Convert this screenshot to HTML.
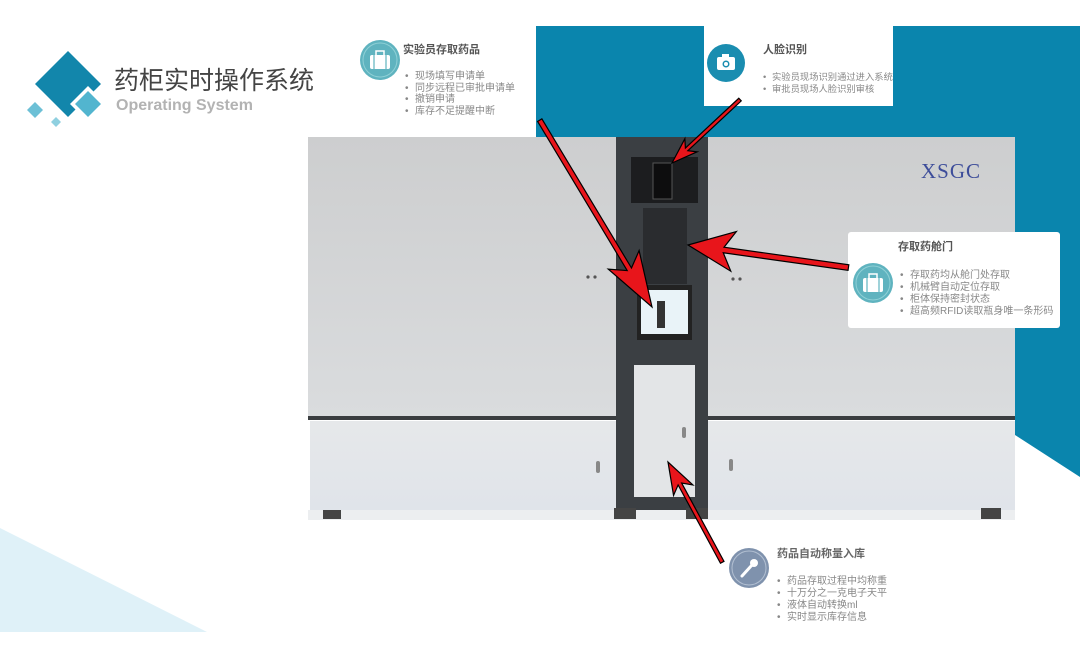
<!DOCTYPE html>
<html><head><meta charset="utf-8"><style>
html,body{margin:0;padding:0;background:#fff}
body{width:1080px;height:660px;overflow:hidden;position:relative;font-family:"Liberation Sans","Noto Sans CJK SC",sans-serif}
</style></head><body>
<svg width="1080" height="660" viewBox="0 0 1080 660" xmlns="http://www.w3.org/2000/svg" style="position:absolute;left:0;top:0">
<defs>
<linearGradient id="pan" x1="0" y1="0" x2="0" y2="1"><stop offset="0" stop-color="#cdcecf"/><stop offset="1" stop-color="#dadcde"/></linearGradient>
<linearGradient id="pan2" x1="0" y1="0" x2="0" y2="1"><stop offset="0" stop-color="#e6e8ea"/><stop offset="1" stop-color="#e0e4ea"/></linearGradient>
</defs>
<polygon points="536,26 1080,26 1080,477 1015,435 1015,137 536,137" fill="#0a85ad"/>
<polygon points="0,528 207,632 0,632" fill="#dff1f8"/>
<polygon points="68,51 101,84 68,117 35,84" fill="#1286ab"/>
<polygon points="88,86 106,104 88,122 70,104" fill="#fff"/>
<polygon points="88,91 101,104 88,117 75,104" fill="#52b5cf"/>
<polygon points="35,102 43,110 35,118 27,110" fill="#6cc0d6"/>
<polygon points="56,117 61,122 56,127 51,122" fill="#8fd0e0"/>
<text x="114" y="89" font-size="25" fill="#444">药柜实时操作系统</text>
<text x="116" y="110" font-size="16" font-weight="bold" fill="#b3b3b3">Operating System</text>
<rect x="308" y="137" width="308" height="283" fill="url(#pan)"/>
<rect x="708" y="137" width="307" height="283" fill="url(#pan)"/>
<rect x="308" y="416" width="308" height="4" fill="#3a3d40"/>
<rect x="708" y="416" width="307" height="4" fill="#3a3d40"/>
<rect x="310" y="421" width="306" height="89" fill="url(#pan2)"/>
<rect x="708" y="421" width="307" height="89" fill="url(#pan2)"/>
<rect x="308" y="510" width="707" height="10" fill="#eceef0"/>
<rect x="616" y="137" width="92" height="373" fill="#3b3f43"/>
<rect x="631" y="157" width="67" height="46" fill="#1c1d1f"/>
<rect x="653" y="163" width="19" height="36" fill="#0d0d0e" stroke="#555" stroke-width="1"/>
<rect x="643" y="208" width="44" height="76" fill="#2a2c2f"/>
<rect x="637" y="285" width="55" height="55" fill="#222"/>
<rect x="641" y="290" width="47" height="44" fill="#e9f3f8"/>
<rect x="657" y="301" width="8" height="27" fill="#333"/>
<rect x="634" y="365" width="61" height="132" fill="#e3e5e7"/>
<rect x="682" y="427" width="4" height="11" rx="2" fill="#888"/>
<rect x="596" y="461" width="4" height="12" rx="2" fill="#888"/>
<rect x="729" y="459" width="4" height="12" rx="2" fill="#888"/>
<circle cx="588" cy="277" r="1.6" fill="#555"/><circle cx="595" cy="277" r="1.6" fill="#555"/>
<circle cx="733" cy="279" r="1.6" fill="#555"/><circle cx="740" cy="279" r="1.6" fill="#555"/>
<rect x="323" y="510" width="18" height="9" fill="#444"/>
<rect x="614" y="508" width="22" height="11" fill="#444"/>
<rect x="686" y="508" width="22" height="11" fill="#444"/>
<rect x="981" y="508" width="20" height="11" fill="#444"/>
<text x="921" y="178" font-size="21" fill="#3d4d9a" font-family="Liberation Serif,serif" letter-spacing="1">XSGC</text>
<circle cx="380" cy="60" r="20" fill="#5fb3bf"/><circle cx="380" cy="60" r="17" fill="none" stroke="#8fd0d6" stroke-width="1"/>
<rect x="370" y="55" width="20" height="14" rx="2" fill="#fff"/><rect x="376" y="51" width="8" height="5" fill="none" stroke="#fff" stroke-width="1.5"/>
<line x1="374" y1="55" x2="374" y2="69" stroke="#5fb3bf" stroke-width="1.2"/><line x1="386" y1="55" x2="386" y2="69" stroke="#5fb3bf" stroke-width="1.2"/>
<text x="403" y="53" font-size="11" font-weight="bold" fill="#555">实验员存取药品</text>
<g font-size="10" fill="#888"><text x="405" y="79">•</text><text x="415" y="79">现场填写申请单</text><text x="405" y="91">•</text><text x="415" y="91">同步远程已审批申请单</text><text x="405" y="102">•</text><text x="415" y="102">撤销申请</text><text x="405" y="114">•</text><text x="415" y="114">库存不足提醒中断</text></g>
<rect x="704" y="26" width="189" height="80" fill="#fff"/>
<circle cx="726" cy="63" r="19" fill="#1a8db0"/>
<rect x="717" y="57" width="18" height="13" rx="2" fill="#fff"/><rect x="722" y="54" width="7" height="4" fill="#fff"/><circle cx="726" cy="64" r="3.5" fill="#1a8db0"/><circle cx="726" cy="64" r="2" fill="#fff"/>
<text x="763" y="53" font-size="11" font-weight="bold" fill="#555">人脸识别</text>
<g font-size="9.3" fill="#888"><text x="763" y="80">•</text><text x="772" y="80">实验员现场识别通过进入系统</text><text x="763" y="92">•</text><text x="772" y="92">审批员现场人脸识别审核</text></g>
<rect x="848" y="232" width="212" height="96" rx="3" fill="#fff"/>
<circle cx="873" cy="283" r="20" fill="#5fb3bf"/><circle cx="873" cy="283" r="17" fill="none" stroke="#8fd0d6" stroke-width="1"/>
<rect x="863" y="278" width="20" height="14" rx="2" fill="#fff"/><rect x="869" y="274" width="8" height="5" fill="none" stroke="#fff" stroke-width="1.5"/>
<line x1="867" y1="278" x2="867" y2="292" stroke="#5fb3bf" stroke-width="1.2"/><line x1="879" y1="278" x2="879" y2="292" stroke="#5fb3bf" stroke-width="1.2"/>
<text x="898" y="250" font-size="11" font-weight="bold" fill="#555">存取药舱门</text>
<g font-size="10" fill="#888"><text x="900" y="278">•</text><text x="910" y="278">存取药均从舱门处存取</text><text x="900" y="290">•</text><text x="910" y="290">机械臂自动定位存取</text><text x="900" y="302">•</text><text x="910" y="302">柜体保持密封状态</text><text x="900" y="314">•</text><text x="910" y="314">超高频RFID读取瓶身唯一条形码</text></g>
<circle cx="749" cy="568" r="20" fill="#7f92ad"/><circle cx="749" cy="568" r="17" fill="none" stroke="#b3c0d2" stroke-width="1"/>
<line x1="742" y1="576" x2="752" y2="565" stroke="#fff" stroke-width="3" stroke-linecap="round"/><circle cx="754" cy="563" r="4" fill="#fff"/>
<text x="777" y="557" font-size="11" font-weight="bold" fill="#666">药品自动称量入库</text>
<g font-size="10" fill="#888"><text x="777" y="584">•</text><text x="787" y="584">药品存取过程中均称重</text><text x="777" y="596">•</text><text x="787" y="596">十万分之一克电子天平</text><text x="777" y="608">•</text><text x="787" y="608">液体自动转换ml</text><text x="777" y="620">•</text><text x="787" y="620">实时显示库存信息</text></g>
<g fill="#e8151b" stroke="#000" stroke-width="1.2" stroke-linejoin="miter">
<g transform="translate(652,307) rotate(59)"><polygon points="0,0 -55,-18 -44,-2.5 -218,-2.5 -218,2.5 -44,2.5 -55,18"/></g>
<g transform="translate(672,163) rotate(137)"><polygon points="0,0 -26,-9 -20,-1.8 -93,-1.8 -93,1.8 -20,1.8 -26,9"/></g>
<g transform="translate(688,245) rotate(188)"><polygon points="0,0 -46,-20 -36,-2.8 -162,-2.8 -162,2.8 -36,2.8 -46,20"/></g>
<g transform="translate(668,462) rotate(241.6)"><polygon points="0,0 -32,-11 -25,-2 -114,-2 -114,2 -25,2 -32,11"/></g>
</g>
</svg>
</body></html>
